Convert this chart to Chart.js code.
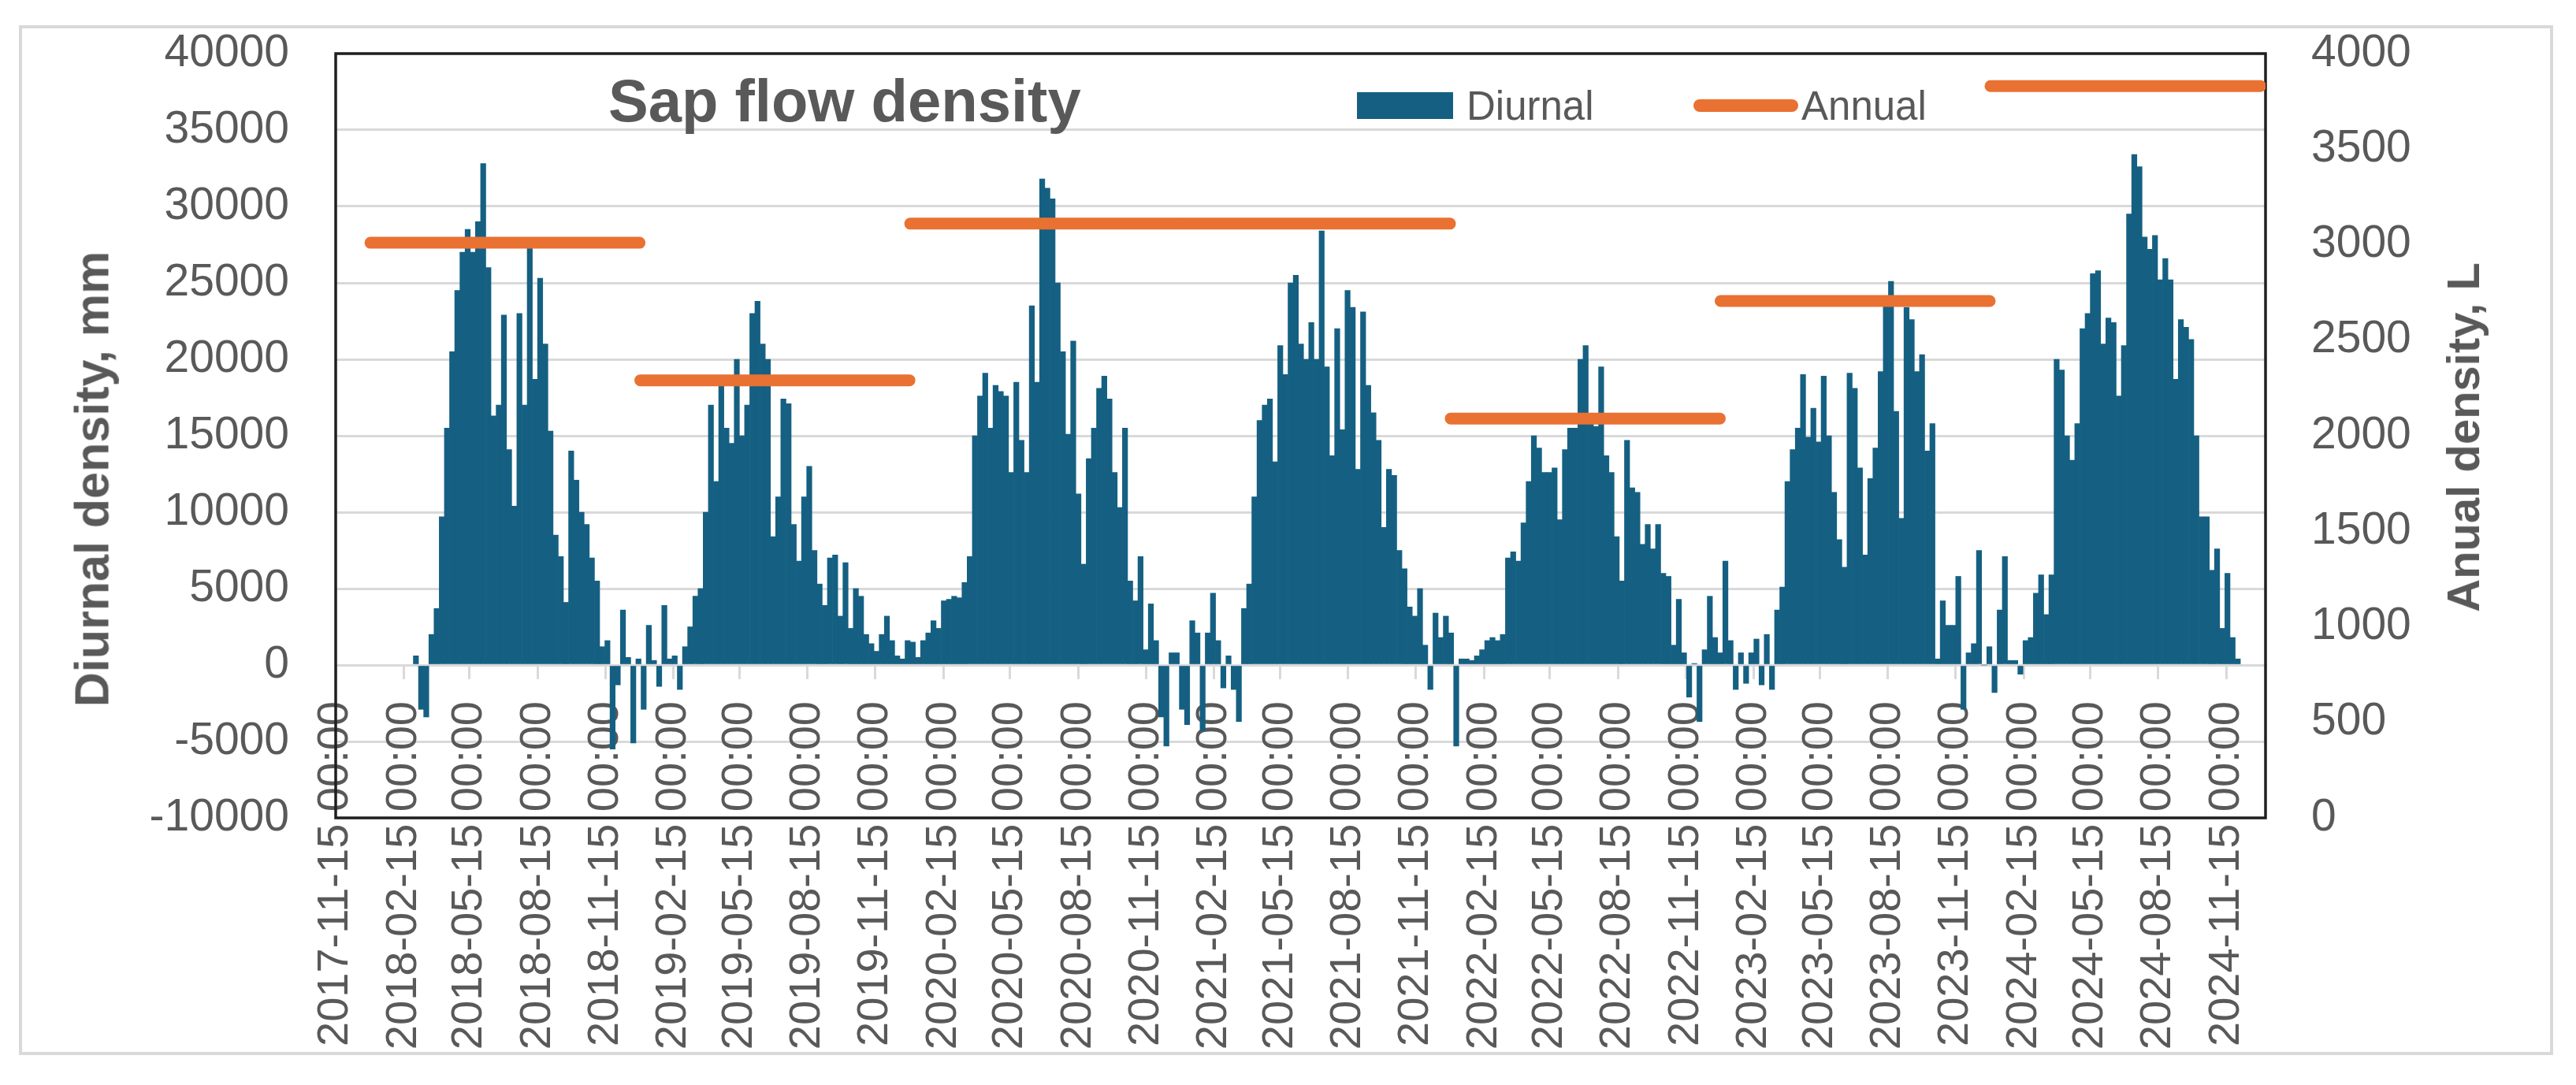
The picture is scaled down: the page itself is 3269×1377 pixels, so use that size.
<!DOCTYPE html>
<html>
<head>
<meta charset="utf-8">
<title>Sap flow density</title>
<script src="https://cdn.jsdelivr.net/npm/chart.js@4.4.1/dist/chart.umd.min.js"></script>
<style>
  html, body { margin: 0; padding: 0; background: #fff; overflow: hidden; }
  #wrap { position: relative; width: 3269px; height: 1377px; font-family: 'Liberation Sans', Arial, sans-serif; color: #595959; }
  #outer { position: absolute; left: 24px; top: 32px; width: 3216px; height: 1307px; border: 4px solid #d9d9d9; box-sizing: border-box; }
  #chart { position: absolute; left: 0; top: 0; }
  .txt { position: absolute; white-space: nowrap; line-height: 1; }
  #title { left: 772px; top: 90px; font-size: 76px; font-weight: bold; }
  .axis-title { font-weight: bold; transform: translate(-50%, -50%) rotate(-90deg); }
  #yTitle { left: 117px; top: 608px; font-size: 61px; }
  #y1Title { left: 3126px; top: 555px; font-size: 58px; }
  .mark { position: absolute; }
  .mark.box { top: 117px; width: 122px; height: 34px; }
  .mark.line { top: 126px; width: 133px; height: 16px; border-radius: 8px; }
  .legend-label { top: 109px; font-size: 51px; }
</style>
</head>
<body>
<div id="wrap">
  <div id="outer"></div>
  <canvas id="chart" width="3269" height="1377"></canvas>
  <div class="txt" id="title">Sap flow density</div>
  <div class="txt axis-title" id="yTitle">Diurnal density, mm</div>
  <div class="txt axis-title" id="y1Title">Anual density, L</div>
  <div id="legend"></div>
</div>
<script>
// day 0 of the x axis
const START = Date.UTC(2017, 10, 15);
const DAY = 86400000;
const STEP = 7; // one bar per week

const tickLabels = [
  '2017-11-15 00:00', '2018-02-15 00:00', '2018-05-15 00:00', '2018-08-15 00:00',
  '2018-11-15 00:00', '2019-02-15 00:00', '2019-05-15 00:00', '2019-08-15 00:00',
  '2019-11-15 00:00', '2020-02-15 00:00', '2020-05-15 00:00', '2020-08-15 00:00',
  '2020-11-15 00:00', '2021-02-15 00:00', '2021-05-15 00:00', '2021-08-15 00:00',
  '2021-11-15 00:00', '2022-02-15 00:00', '2022-05-15 00:00', '2022-08-15 00:00',
  '2022-11-15 00:00', '2023-02-15 00:00', '2023-05-15 00:00', '2023-08-15 00:00',
  '2023-11-15 00:00', '2024-02-15 00:00', '2024-05-15 00:00', '2024-08-15 00:00',
  '2024-11-15 00:00'
];

// weekly diurnal values, mm (each season = 52 weeks from mid November)
const season2018 = [null, null, null, null, null, null, null, null, null, null, null, null, null, null, null,
  600, -2900, -3400, 2000, 3700, 9700, 15500, 20500, 24500, 27000, 28500, 27000, 29000, 32800, 26000,
  16300, 17000, 22900, 14100, 10400, 23000, 17000, 27500, 18700, 25300, 21000, 15300, 8500, 7100, 4100,
  14000, 12100, 10000, 9200, 7000, 5500, 1200];
const season2019 = [1600, -5500, -1300, 3600, 500, -5100, 400, -2900, 2600, 300, -1400, 3900, 400, 600,
  -1600, 1200, 2500, 4500, 5000, 10000, 17000, 12000, 18300, 15500, 14500, 20000, 15000, 17000, 23000,
  23800, 21000, 20000, 8400, 11000, 17400, 17100, 9200, 6800, 11000, 13000, 7500, 5300, 3900, 7000,
  7200, 3200, 6700, 2400, 5000, 4500, 2000, 1400];
const season2020 = [900, 2000, 3200, 1600, 600, 400, 1600, 1500, 500, 1600, 2100, 2900, 2400, 4200, 4300,
  4500, 4400, 5400, 7100, 15000, 17600, 19100, 15500, 18300, 17900, 17600, 12600, 18500, 14700, 12600,
  23500, 18500, 31800, 31200, 30500, 25000, 20500, 15100, 21200, 11200, 6600, 13500, 15500, 18100,
  18900, 17400, 12600, 10300, 15500, 5500, 4200, 7100];
const season2021 = [1000, 4000, 1600, -3400, -5300, 800, 800, -2900, -3900, 2900, 2100, -4300, 2100, 4700,
  1600, -1500, 600, -1600, -3700, 3700, 5300, 11000, 16000, 17000, 17400, 13300, 20900, 19000, 25000,
  25500, 21000, 20000, 22400, 20000, 28400, 19500, 13700, 22000, 15400, 24500, 23400, 12800, 23100,
  18300, 16500, 14700, 9000, 12800, 12400, 7500, 6300, 3800];
const season2022 = [3200, 5000, 1300, -1600, 3400, 1800, 3200, 2100, -5300, 400, 400, 300, 600, 1000, 1600,
  1800, 1600, 2000, 7000, 7400, 6800, 9300, 12000, 15000, 14200, 12600, 12600, 12900, 9500, 14100, 15500,
  15500, 20000, 20900, 15900, 15600, 19500, 13700, 12600, 8400, 5500, 14700, 11600, 11300, 7900, 9200,
  7600, 9200, 6000, 5800, 1300, 4300];
const season2023 = [800, -2100, 100, -3700, 1000, 4500, 1800, 800, 6800, 1600, -1600, 800, -1200, 800, 1700,
  -1300, 2000, -1600, 3600, 5100, 12000, 14100, 15500, 19000, 14900, 16800, 14600, 18900, 15000, 11300,
  8200, 6400, 19100, 18100, 12900, 7200, 12200, 14200, 19200, 23700, 25100, 16600, 9600, 23400, 22600,
  19200, 20300, 14000, 15800, 400, 4200, 2600];
const season2024 = [2600, 5800, -2900, 800, 1400, 7500, 0, 1200, -1800, 3600, 7100, 300, 300, -600, 1600,
  1800, 4700, 5900, 3300, 5900, 20000, 19300, 15000, 13400, 15800, 22000, 23000, 25600, 25800, 21000,
  22700, 22400, 17600, 20900, 29500, 33400, 32600, 28000, 27200, 28100, 25200, 26600, 25200, 18700,
  22600, 22100, 21300, 15000, 9700, 9700, 6200, 7600];
const tail2024 = [2400, 6000, 1800, 400];

// annual values, L (calendar years)
const annualYears = [2018, 2019, 2020, 2021, 2022, 2023, 2024];
const annualValues = [3010, 2290, 3110, 3110, 2090, 2705, 3830];

const dayOf = (y, m, d) => (Date.UTC(y, m - 1, d) - START) / DAY;
const tickDays = tickLabels.map(s => {
  const [y, m, d] = s.slice(0, 10).split('-').map(Number);
  return dayOf(y, m, d);
});

const weekly = [].concat(season2018, season2019, season2020, season2021,
  season2022, season2023, season2024, tail2024);
const diurnalPoints = weekly.map((v, i) => ({x: i * STEP + STEP / 2, y: v}));

const annualPoints = [];
annualYears.forEach((yr, i) => {
  const from = dayOf(yr, 1, 1);
  const to = dayOf(yr, 12, 31);
  annualPoints.push({x: from, y: annualValues[i]}, {x: to, y: annualValues[i]}, {x: to + 0.5, y: null});
});

Chart.defaults.font.family = "'Liberation Sans', Arial, sans-serif";
Chart.defaults.color = '#595959';

const GRID = '#d9d9d9';
const tickFont = {size: 57};

// keep the plot box where the original has it: no extra room for label overhang
const pinBox = (w, h) => s => {
  if (w !== null) s.width = w;
  if (h !== null) s.height = h;
  s.paddingTop = 0;
  s.paddingBottom = 0;
  s.paddingLeft = 0;
  s.paddingRight = 0;
};

const plotFrame = {
  id: 'plotFrame',
  beforeDatasetsDraw(chart) {
    const {ctx, chartArea: a} = chart;
    ctx.save();
    ctx.strokeStyle = '#1f1f1f';
    ctx.lineWidth = 3.5;
    ctx.strokeRect(a.left, a.top, a.right - a.left, a.bottom - a.top);
    ctx.restore();
  }
};

const chart = new Chart(document.getElementById('chart'), {
  data: {
    datasets: [{
      type: 'bar',
      label: 'Diurnal',
      data: diurnalPoints,
      yAxisID: 'y',
      backgroundColor: '#156082',
      borderWidth: 0,
      barPercentage: 1,
      categoryPercentage: 1,
      order: 2
    }, {
      type: 'line',
      label: 'Annual',
      data: annualPoints,
      yAxisID: 'y1',
      borderColor: '#E97132',
      borderWidth: 15,
      borderCapStyle: 'round',
      pointRadius: 0,
      tension: 0,
      fill: false,
      spanGaps: false,
      order: 1
    }]
  },
  options: {
    responsive: false,
    devicePixelRatio: 1,
    animation: false,
    layout: {padding: {left: 0, right: 0, top: 68, bottom: 339}},
    plugins: {
      legend: {display: false},
      title: {display: false},
      tooltip: {enabled: false}
    },
    scales: {
      x: {
        type: 'linear',
        min: 0,
        max: 2610,
        offset: false,
        position: {y: 0},
        grid: {offset: false, drawOnChartArea: false, drawTicks: true, tickLength: 16, tickWidth: 3, tickColor: GRID, color: GRID, lineWidth: 3},
        border: {display: true, color: GRID, width: 3},
        ticks: {
          autoSkip: false,
          minRotation: 90,
          maxRotation: 90,
          padding: 30,
          font: {size: 56},
          callback: (v, i) => tickLabels[i]
        },
        afterBuildTicks: s => { s.ticks = tickDays.map(v => ({value: v})); },
        afterFit: pinBox(null, 0)
      },
      y: {
        position: 'left',
        min: -10000,
        max: 40000,
        grid: {color: GRID, lineWidth: 3, drawTicks: false},
        border: {display: false},
        ticks: {stepSize: 5000, padding: 59, font: tickFont, callback: v => String(v)},
        afterFit: pinBox(426, null)
      },
      y1: {
        position: 'right',
        min: 0,
        max: 4000,
        grid: {display: false, drawTicks: false},
        border: {display: false},
        ticks: {stepSize: 500, padding: 58, font: tickFont, callback: v => String(v)},
        afterFit: pinBox(394, null)
      }
    }
  },
  plugins: [plotFrame]
});

// legend built from the datasets, placed inside the plot as in the original
const legendSlots = [{markX: 1722, textX: 1861}, {markX: 2149, textX: 2286}];
const legendEl = document.getElementById('legend');
chart.data.datasets.forEach((ds, i) => {
  const slot = legendSlots[i];
  const mark = document.createElement('div');
  mark.className = ds.type === 'line' ? 'mark line' : 'mark box';
  mark.style.left = slot.markX + 'px';
  mark.style.background = ds.type === 'line' ? ds.borderColor : ds.backgroundColor;
  legendEl.appendChild(mark);
  const label = document.createElement('div');
  label.className = 'txt legend-label';
  label.style.left = slot.textX + 'px';
  label.textContent = ds.label;
  legendEl.appendChild(label);
});
</script>
</body>
</html>
